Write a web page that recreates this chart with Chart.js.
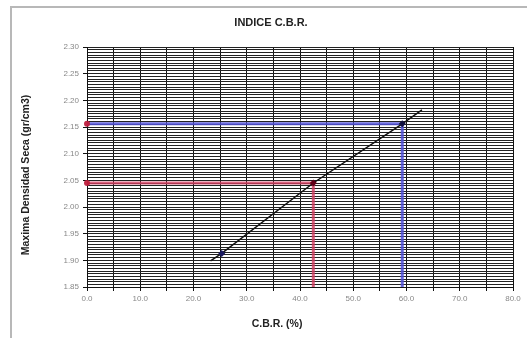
<!DOCTYPE html>
<html>
<head>
<meta charset="utf-8">
<script src="https://cdn.jsdelivr.net/npm/chart.js@4/dist/chart.umd.min.js"></script>
<style>
  html, body { margin: 0; padding: 0; background: #fff; }
  #wrap { width: 527px; height: 338px; position: relative; }
</style>
</head>
<body>
<div id="wrap"><canvas id="c" width="527" height="338"></canvas></div>
<script>
// --- data ---
const cbrTrend = [23.2, 25.3, 42.5, 59.2, 62.9];
const densTrend = [1.899, 1.913, 2.045, 2.156, 2.182];

const pointsCbr = [25.3, 42.5, 59.2];
const pointsDens = [1.913, 2.045, 2.156];

// guide lines (red / blue)
const redCbr = [0, 42.5, 42.5];
const redDens = [2.045, 2.045, 1.85];
const blueCbr = [0, 59.2, 59.2];
const blueDens = [2.156, 2.156, 1.85];

const chartTitle = 'INDICE C.B.R.';
const xTitle = 'C.B.R. (%)';
const yTitle = 'Maxima Densidad Seca (gr/cm3)';

const yMin = 1.85, yMax = 2.30, yMinor = 0.005, yMajor = 0.05;
const xMin = 0, xMax = 80, xMinor = 5, xMajor = 10;

const FONT = 'Arial, "Liberation Sans", sans-serif';

function toXY(xs, ys) {
  return xs.map((x, i) => ({ x: x, y: ys[i] }));
}

function isMajor(v, step) {
  const r = v / step;
  return Math.abs(r - Math.round(r)) < 1e-6;
}

// frame + titles (Excel centres them on its own chart window, not the plot)
const framePlugin = {
  id: 'frame',
  beforeDraw(chart) {
    const ctx = chart.ctx;
    ctx.save();
    ctx.fillStyle = '#fff';
    ctx.fillRect(0, 0, chart.width, chart.height);
    ctx.strokeStyle = '#b8b8b8';
    ctx.lineWidth = 2;
    ctx.strokeRect(11, 7, 700, 500);
    ctx.restore();
  },
  afterDraw(chart) {
    const ctx = chart.ctx;
    ctx.save();
    ctx.fillStyle = '#222';
    ctx.textAlign = 'center';
    ctx.textBaseline = 'middle';
    ctx.font = 'bold 11px ' + FONT;
    ctx.fillText(chartTitle, 271, 23);
    ctx.font = 'bold 10.5px ' + FONT;
    ctx.fillText(xTitle, 277, 324);
    ctx.translate(26, 175);
    ctx.rotate(-Math.PI / 2);
    ctx.font = 'bold 10.5px ' + FONT;
    ctx.fillText(yTitle, 0, 0);
    ctx.restore();
  }
};

new Chart(document.getElementById('c'), {
  type: 'scatter',
  data: {
    datasets: [
      {
        label: 'puntos',
        data: toXY(pointsCbr, pointsDens),
        showLine: false,
        pointStyle: 'rectRot',
        pointRadius: 3.5,
        pointBackgroundColor: ['#1a1a60', '#600018', '#101040'],
        pointBorderWidth: 0
      },
      {
        label: 'tendencia',
        data: toXY(cbrTrend, densTrend),
        showLine: true,
        borderColor: '#111',
        borderWidth: 1.5,
        pointRadius: 0
      },
      {
        label: 'rojo',
        data: toXY(redCbr, redDens),
        showLine: true,
        clip: false,
        borderColor: 'rgba(210, 60, 95, 0.8)',
        borderWidth: 3,
        pointRadius: [3, 0, 0],
        pointBackgroundColor: 'rgba(190, 30, 60, 0.95)',
        pointBorderWidth: 0
      },
      {
        label: 'azul',
        data: toXY(blueCbr, blueDens),
        showLine: true,
        clip: false,
        borderColor: 'rgba(80, 80, 215, 0.85)',
        borderWidth: 3,
        pointRadius: [3, 0, 0],
        pointBackgroundColor: 'rgba(190, 30, 60, 0.95)',
        pointBorderWidth: 0
      }
    ]
  },
  options: {
    responsive: false,
    animation: false,
    layout: { padding: { left: 12, right: 14, top: 47, bottom: 0 } },
    plugins: {
      legend: { display: false },
      tooltip: { enabled: false },
      title: { display: false }
    },
    scales: {
      x: {
        type: 'linear',
        min: xMin,
        max: xMax,
        ticks: {
          stepSize: xMinor,
          autoSkip: false,
          maxRotation: 0,
          color: '#888',
          font: { family: FONT, size: 8 },
          padding: 3,
          callback: v => isMajor(v, xMajor) ? v.toFixed(1) : ''
        },
        grid: {
          color: '#111',
          lineWidth: 1,
          tickLength: 4,
          tickColor: ctx => (ctx.tick && isMajor(ctx.tick.value, xMinor)) ? '#111' : 'rgba(0,0,0,0)'
        },
        border: { color: '#111', width: 1 },
        afterFit: s => { s.height = 51; }
      },
      y: {
        type: 'linear',
        min: yMin,
        max: yMax,
        ticks: {
          stepSize: yMinor,
          autoSkip: false,
          color: '#888',
          font: { family: FONT, size: 8 },
          padding: 4,
          callback: v => isMajor(v, yMajor) ? v.toFixed(2) : ''
        },
        grid: {
          color: '#222',
          lineWidth: 1,
          tickLength: 4,
          tickColor: ctx => (ctx.tick && isMajor(ctx.tick.value, yMajor)) ? '#111' : 'rgba(0,0,0,0)'
        },
        border: { color: '#111', width: 1 },
        afterFit: s => { s.width = 75; }
      }
    }
  },
  plugins: [framePlugin]
});
</script>
</body>
</html>
